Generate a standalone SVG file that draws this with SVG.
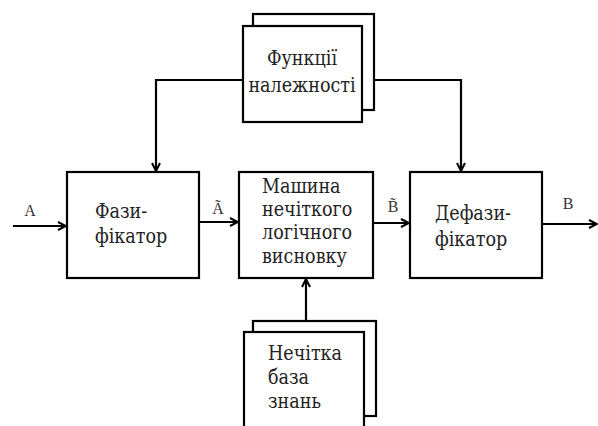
<svg xmlns="http://www.w3.org/2000/svg" width="598" height="426" viewBox="0 0 598 426">
<style>
.box{fill:#fff;stroke:#000;stroke-width:2.2}
.t{font-family:"DejaVu Serif Condensed","DejaVu Serif","Noto Serif",serif;font-size:19.5px;fill:#222}
.s{font-family:"Liberation Serif","DejaVu Serif",serif;font-size:16px;fill:#333}
.ln{fill:none;stroke:#000;stroke-width:2.2}
</style>
<defs>
<marker id="ah" viewBox="0 0 10 10" refX="9" refY="5" markerWidth="10" markerHeight="10" markerUnits="userSpaceOnUse" orient="auto">
<path d="M1,1 L9,5 L1,9" fill="none" stroke="#000" stroke-width="2"/>
</marker>
</defs>
<rect width="598" height="426" fill="#fff"/>
<g id="connectors">
<path class="ln" d="M243,80 H156 V171" marker-end="url(#ah)"/>
<path class="ln" d="M374,80 H461 V171" marker-end="url(#ah)"/>
<path class="ln" d="M13,226 H66" marker-end="url(#ah)"/>
<path class="ln" d="M199,222 H238" marker-end="url(#ah)"/>
<path class="ln" d="M373,223 H409" marker-end="url(#ah)"/>
<path class="ln" d="M542,224 H597" marker-end="url(#ah)"/>
<path class="ln" d="M306,321 V279" marker-end="url(#ah)"/>
<text class="s" x="30" y="216" text-anchor="middle">A</text>
<text class="s" x="218" y="214" text-anchor="middle">Ã</text>
<text class="s" x="393" y="212" text-anchor="middle">B̃</text>
<text class="s" x="568" y="209" text-anchor="middle">B</text>
</g>
<g id="membership">
<rect class="box" x="253" y="14" width="121" height="96"/>
<rect class="box" x="243" y="26" width="119" height="96"/>
<text class="t" x="302" y="65" text-anchor="middle">Функції</text>
<text class="t" x="302" y="92" text-anchor="middle">належності</text>
</g>
<g id="fuzzifier">
<rect class="box" x="67" y="172" width="132" height="106"/>
<text class="t" x="95" y="218">Фази-</text>
<text class="t" x="95" y="243">фікатор</text>
</g>
<g id="inference">
<rect class="box" x="239" y="172" width="134" height="106"/>
<text class="t" x="262" y="193">Машина</text>
<text class="t" x="262" y="216">нечіткого</text>
<text class="t" x="262" y="239">логічного</text>
<text class="t" x="262" y="263">висновку</text>
</g>
<g id="defuzzifier">
<rect class="box" x="410" y="172" width="132" height="106"/>
<text class="t" x="435" y="220">Дефази-</text>
<text class="t" x="435" y="246">фікатор</text>
</g>
<g id="knowledge">
<rect class="box" x="253" y="321" width="123" height="95"/>
<rect class="box" x="244" y="332" width="120" height="100"/>
<text class="t" x="268" y="360">Нечітка</text>
<text class="t" x="268" y="384">база</text>
<text class="t" x="268" y="408">знань</text>
</g>
</svg>
